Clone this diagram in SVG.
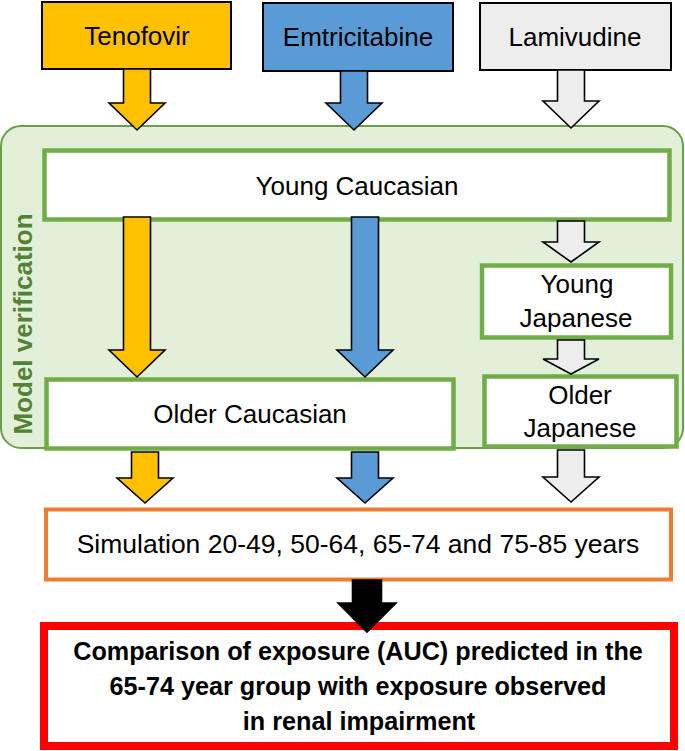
<svg xmlns="http://www.w3.org/2000/svg" width="685" height="751" viewBox="0 0 685 751">
<style>
.t{font-family:"Liberation Sans",Arial,sans-serif;font-size:26px;fill:#000;text-anchor:middle}
.b{font-family:"Liberation Sans",Arial,sans-serif;font-size:25.2px;font-weight:bold;fill:#000;text-anchor:middle}
.drug{stroke:#000;stroke-width:2}
.pop{fill:#fff;stroke:#70AD47;stroke-width:4.5}
.arr{stroke:#000;stroke-width:1.6;stroke-linejoin:miter}
.or{fill:#FFC000}.bl{fill:#5B9BD5}.gr{fill:#EDEDED}.bk{fill:#000}
</style>
<rect id="panel" x="1" y="126" width="682" height="322" rx="20" fill="#E2F0D9" stroke="#6A9F4A" stroke-width="2"/>
<text x="0" y="0" transform="translate(32,324) rotate(-90)" style="font-family:'Liberation Sans',Arial,sans-serif;font-size:26px;font-weight:bold;fill:#548235;text-anchor:middle">Model verification</text>

<g id="tenofovir"><rect class="drug or" x="42" y="2" width="189" height="67"/><text class="t" x="137" y="45">Tenofovir</text></g>
<g id="emtricitabine"><rect class="drug bl" x="263" y="3" width="190" height="68"/><text class="t" x="358" y="46">Emtricitabine</text></g>
<g id="lamivudine"><rect class="drug gr" x="480" y="3" width="191" height="67"/><text class="t" x="575" y="46">Lamivudine</text></g>

<g id="young-caucasian"><rect class="pop" x="44.5" y="150.5" width="625" height="69"/><text class="t" x="357" y="195">Young Caucasian</text></g>
<g id="young-japanese"><rect class="pop" x="482" y="265.5" width="189" height="72"/><text class="t" x="577" y="293">Young</text><text class="t" x="576" y="327">Japanese</text></g>
<g id="older-japanese"><rect class="pop" x="484.5" y="376.5" width="192" height="70"/><text class="t" x="580" y="404">Older</text><text class="t" x="580" y="437">Japanese</text></g>
<g id="older-caucasian"><rect class="pop" x="46.5" y="379.5" width="407" height="69"/><text class="t" x="250" y="423">Older Caucasian</text></g>

<g id="simulation"><rect x="46" y="509.5" width="625" height="70" fill="#fff" stroke="#ED7D31" stroke-width="4"/><text class="t" x="358" y="553" style="font-size:26.5px">Simulation 20-49, 50-64, 65-74 and 75-85 years</text></g>
<g id="comparison"><rect x="44" y="626" width="630" height="120" fill="#fff" stroke="#FF0000" stroke-width="8"/>
<text class="b" x="358" y="660">Comparison of exposure (AUC) predicted in the</text>
<text class="b" x="358" y="695">65-74 year group with exposure observed</text>
<text class="b" x="359" y="730">in renal impairment</text></g>

<g id="connectors">
<polygon class="arr or" points="123.5,69 150.5,69 150.5,103 165,103 137,130 109,103 123.5,103"/>
<polygon class="arr bl" points="340.5,71 367.5,71 367.5,103 382,103 354,130 326,103 340.5,103"/>
<polygon class="arr gr" points="557.5,70 584.5,70 584.5,101 599,101 571,128 543,101 557.5,101"/>
<polygon class="arr or" points="123.5,217 150.5,217 150.5,350 165,350 137,377 109,350 123.5,350"/>
<polygon class="arr bl" points="351.5,217 378.5,217 378.5,350 393,350 365,377 337,350 351.5,350"/>
<polygon class="arr gr" points="557.5,221 584.5,221 584.5,242 599,242 571,262 543,242 557.5,242"/>
<polygon class="arr gr" points="557.5,340 584.5,340 584.5,359 599,359 571,374 543,359 557.5,359"/>
<polygon class="arr or" points="131.5,452 158.5,452 158.5,478 173,478 145,503 117,478 131.5,478"/>
<polygon class="arr bl" points="351.5,452 378.5,452 378.5,478 393,478 365,503 337,478 351.5,478"/>
<polygon class="arr gr" points="557.5,450 584.5,450 584.5,477 599,477 571,502 543,477 557.5,477"/>
<polygon class="arr bk" points="352.5,580 381.5,580 381.5,603 396,603 367,632 338,603 352.5,603"/>
</g>
</svg>
